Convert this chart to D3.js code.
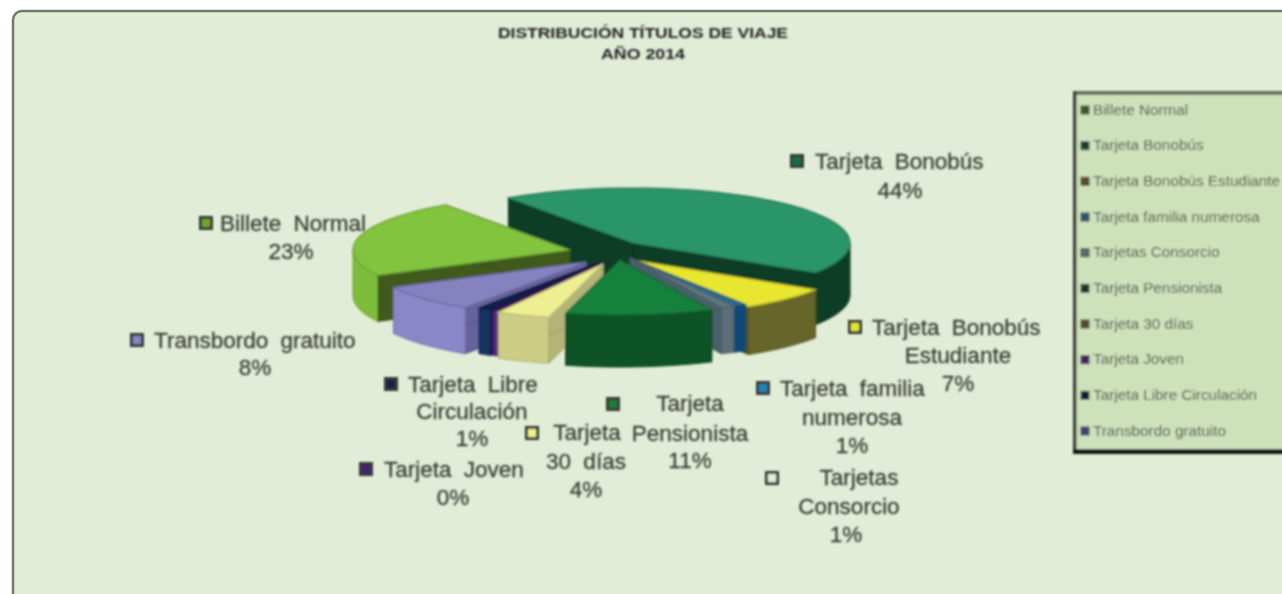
<!DOCTYPE html>
<html><head><meta charset="utf-8">
<script src="https://cdnjs.cloudflare.com/ajax/libs/d3/7.9.0/d3.min.js"></script>
<style>html,body{margin:0;padding:0;background:#fff;overflow:hidden}svg{display:block}</style>
</head><body><svg id="c" width="1282" height="594"></svg>
<script>
// ---- data ----
const categories = ["Billete Normal","Tarjeta Bonobús","Tarjeta Bonobús Estudiante","Tarjeta familia numerosa","Tarjetas Consorcio","Tarjeta Pensionista","Tarjeta 30 días","Tarjeta Joven","Tarjeta Libre Circulación","Transbordo gratuito"];
const values = [23,44,7,1,1,11,4,0.4,1,8];
const percentLabels = ["23%","44%","7%","1%","1%","11%","4%","0%","1%","8%"];
const titleLines = ["DISTRIBUCIÓN TÍTULOS DE VIAJE","AÑO 2014"];

// ---- style + layout ----
const titleWidths = [290,84];
const topColors  = ["#82c43e","#2a9568","#e8e62e","#2a6c8e","#5f7880","#16803c","#eeee92","#3c1560","#10204a","#8682c0"];
const wallColors = ["#7dbd3a","#0c3d26","#66662a","#0f4a78","#5c7078","#0f5227","#ccCc84","#5c2a88","#12305e","#8a86c8"];
const faceColors = ["#3f5a1c","#0c3d26","#55551f","#0b3a5c","#48606a","#0a3d1c","#b4b478","#3c1560","#0d1f44","#66649c"];
const swatchColors = ["#6fa52e","#0f6e4c","#e4e23a","#1c86b8","#e2edd8","#128038","#f2ee8a","#4a1a78","#10204e","#8a86c4"];
const legendColors = ["#3c5c1e","#0c4030","#5c4c18","#145a80","#586a78","#0a3a18","#544a28","#46186a","#0c1840","#443c78"];
const centers = [[570,250],[633,243],[633,260],[630,258],[630,258],[620,260],[603,264],[603,262],[600,262],[586,262]];
const depths  = [46,52,48,46,46,52,46,46,46,46];
const labelAnchors = [
 {s:[206,223],lines:[{t:"Billete Normal",x:220,y:224,a:"start"},{t:1,x:291,y:252}]},
 {s:[797,161],lines:[{t:"Tarjeta Bonobús",x:815,y:162,a:"start"},{t:1,x:900,y:191}]},
 {s:[855,327],lines:[{t:"Tarjeta Bonobús",x:872,y:328,a:"start"},{t:"Estudiante",x:958,y:356},{t:1,x:958,y:384}]},
 {s:[763,388],lines:[{t:"Tarjeta familia",x:780,y:389,a:"start"},{t:"numerosa",x:852,y:418},{t:1,x:852,y:446}]},
 {s:[772,478],lines:[{t:"Tarjetas",x:859,y:478},{t:"Consorcio",x:849,y:507},{t:1,x:846,y:535}]},
 {s:[613,404],lines:[{t:"Tarjeta",x:690,y:404},{t:"Pensionista",x:690,y:434},{t:1,x:690,y:461}]},
 {s:[532,433],lines:[{t:"Tarjeta",x:587,y:433},{t:"30 días",x:586,y:462},{t:1,x:586,y:490}]},
 {s:[366,469],lines:[{t:"Tarjeta Joven",x:384,y:470,a:"start"},{t:1,x:453,y:498}]},
 {s:[391,384],lines:[{t:"Tarjeta Libre",x:408,y:385,a:"start"},{t:"Circulación",x:472,y:412},{t:1,x:472,y:439}]},
 {s:[137,340],lines:[{t:"Transbordo gratuito",x:154,y:341,a:"start"},{t:1,x:255,y:368}]}
];
const rx=217, ry=55;
const drawOrder=[1,0,2,3,4,9,8,7,6,5];
const FONT='"Liberation Sans",Arial,sans-serif';

const svg=d3.select("#c");
const defs=svg.append("defs");
defs.append("filter").attr("id","soft").attr("x","-5%").attr("y","-5%").attr("width","110%").attr("height","110%")
  .append("feGaussianBlur").attr("stdDeviation",0.8);
defs.append("filter").attr("id","softer").attr("x","-5%").attr("y","-5%").attr("width","110%").attr("height","110%")
  .append("feGaussianBlur").attr("stdDeviation",0.9);

// panel
svg.append("rect").attr("x",13).attr("y",11).attr("width",1320).attr("height",640).attr("rx",9)
  .attr("fill","#e2edd8").attr("stroke","#74776c").attr("stroke-width",2.5);

const g=svg.append("g").attr("filter","url(#soft)");

// title
g.append("g").selectAll("text").data(titleLines).join("text")
  .attr("x",643).attr("y",(d,i)=>38+i*21).attr("text-anchor","middle")
  .attr("textLength",(d,i)=>titleWidths[i]).attr("lengthAdjust","spacingAndGlyphs")
  .attr("font-family",FONT).attr("font-weight","bold").attr("font-size",14).attr("fill","#222").text(d=>d);

// data labels (drawn beneath the pie, which overlaps the end of "Billete Normal")
const lab=g.append("g");
labelAnchors.forEach((L,i)=>{
  lab.append("rect").attr("x",L.s[0]-5.5).attr("y",L.s[1]-5.5).attr("width",11).attr("height",11)
    .attr("fill",swatchColors[i]).attr("stroke","#353a35").attr("stroke-width",3);
  L.lines.forEach(l=>{
    lab.append("text").attr("x",l.x).attr("y",l.y+7).attr("text-anchor",l.a||"middle")
      .attr("font-family",FONT).attr("font-size",22.5).attr("word-spacing",6).attr("fill","#3a3e35")
      .attr("stroke","#3a3e35").attr("stroke-width",0.3)
      .text(l.t===1?percentLabels[i]:l.t);
  });
});

// pie
const startDeg=-117.5;
const pie=d3.pie().sort(null).value(d=>d).startAngle(startDeg*Math.PI/180).endAngle((startDeg+360)*Math.PI/180);
const arcs=pie(values);
const pt=(c,a,dz=0)=>[c[0]+rx*Math.sin(a), c[1]-ry*Math.cos(a)+dz];
const samples=(a0,a1)=>d3.range(0,41).map(k=>a0+(a1-a0)*k/40);
const line=d3.line();
const pieG=g.append("g");
drawOrder.forEach(i=>{
  const A=arcs[i], c=centers[i], depth=depths[i];
  const a0=A.startAngle, a1=A.endAngle;
  const sl=pieG.append("g");
  [a0,a1].forEach(a=>{
    const p=pt(c,a);
    sl.append("path").attr("d",line([c,p,[p[0],p[1]+depth],[c[0],c[1]+depth]])+"Z")
      .attr("fill",faceColors[i]).attr("stroke",d3.color(faceColors[i]).darker(0.4)).attr("stroke-width",1);
  });
  [[Math.PI/2,1.5*Math.PI],[-1.5*Math.PI,-Math.PI/2]].forEach(([f,t])=>{
    const lo=Math.max(a0,f), hi=Math.min(a1,t);
    if(hi>lo){
      const s=samples(lo,hi);
      const upper=s.map(a=>pt(c,a)), lower=s.map(a=>pt(c,a,depth)).reverse();
      sl.append("path").attr("d",line(upper.concat(lower))+"Z")
        .attr("fill",wallColors[i]).attr("stroke",d3.color(wallColors[i]).darker(0.5)).attr("stroke-width",1);
    }
  });
  const rim=samples(a0,a1).map(a=>pt(c,a));
  sl.append("path").attr("d",line([c].concat(rim))+"Z")
    .attr("fill",topColors[i]).attr("stroke",d3.color(topColors[i]).darker(0.6)).attr("stroke-width",1.2);
});

// legend
const leg=svg.append("g").attr("filter","url(#softer)");
leg.append("rect").attr("x",1075).attr("y",93).attr("width",230).attr("height",360).attr("fill","#cde2bb");
leg.append("rect").attr("x",1073).attr("y",91).attr("width",230).attr("height",4).attr("fill","#6b6e60");
leg.append("rect").attr("x",1073).attr("y",91).attr("width",3.5).attr("height",362).attr("fill","#3c3e38");
leg.append("rect").attr("x",1073).attr("y",449).attr("width",230).attr("height",5).attr("fill","#161612");
const ly=d3.scalePoint().domain(categories).range([110,431]);
const items=leg.selectAll("g.it").data(categories).join("g").attr("class","it");
items.append("rect").attr("x",1081).attr("y",d=>ly(d)-4).attr("width",8).attr("height",8)
  .attr("fill",(d,i)=>legendColors[i]).attr("stroke","#55584e").attr("stroke-width",1.2);
items.append("text").attr("x",1093).attr("y",d=>ly(d)+4.5)
  .attr("font-family",FONT).attr("font-size",15.3).attr("fill","#4a4f44").text(d=>d);
</script></body></html>
